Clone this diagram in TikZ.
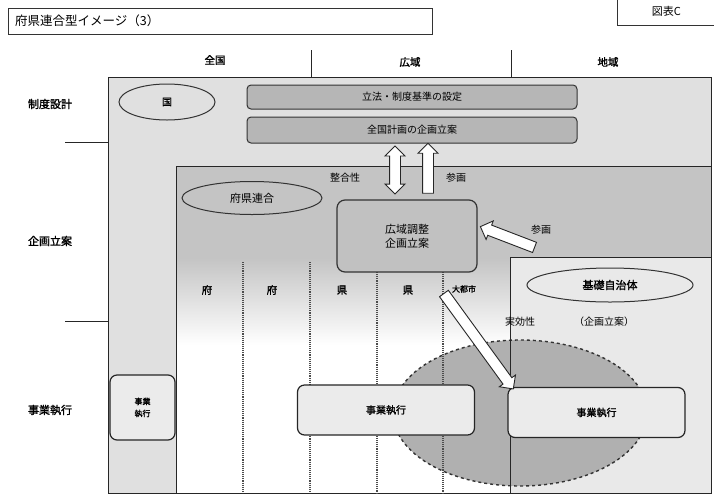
\documentclass[tikz,border=0pt]{standalone}
\usepackage{fontspec}
\newfontfamily\cjk{Noto Sans CJK JP}
\newfontfamily\cjkb[FakeBold=1.6]{Noto Sans CJK JP}
\usetikzlibrary{shapes.geometric,shapes.arrows}
\definecolor{outerfill}{HTML}{E0E0E0}
\definecolor{innerfill}{HTML}{C4C4C4}
\definecolor{barfill}{HTML}{B6B6B6}
\definecolor{localfill}{HTML}{E9E9E9}
\definecolor{ovalfill}{HTML}{B0B0B0}
\begin{document}
\begin{tikzpicture}[x=1pt,y=-1pt,
  every node/.style={font=\cjk\fontsize{10}{12}\selectfont, inner sep=1pt},
  rowlabel/.style={font=\cjkb\fontsize{11}{13}\selectfont},
  collabel/.style={font=\cjkb\fontsize{10.5}{12}\selectfont},
  bar/.style={draw=black!80, line width=1pt, rounded corners=4pt, fill=barfill, minimum width=330pt, minimum height=24pt},
  gbox/.style={draw=black!80, line width=1.2pt, rounded corners=8pt, fill=barfill!85, minimum width=140pt, minimum height=72pt, align=center, font=\cjk\fontsize{11}{14}\selectfont},
  exbox/.style={draw=black!85, line width=1.2pt, rounded corners=7pt, fill=white!92!black, minimum width=177pt, minimum height=50pt, font=\cjkb\fontsize{10}{12}\selectfont},
  oval/.style={ellipse, draw=black!80, line width=1pt},
  blockarrow/.style={single arrow, draw=black!85, line width=0.9pt, fill=white, single arrow head extend=4.5pt, inner sep=0pt, inner ysep=5pt},
  dblarrow/.style={double arrow, draw=black!85, line width=0.9pt, fill=white, double arrow head extend=4.5pt, inner sep=0pt, inner ysep=5pt},
  dotline/.style={densely dotted, line width=1.1pt, black!70},
  edge/.style={line width=0.9pt, black!85}
]
\useasboundingbox (0,0) rectangle (714,496);
\fill[white] (0,0) rectangle (714,496);

% title boxes
\node[draw=black!80, line width=0.8pt, minimum width=424pt, minimum height=26pt, anchor=north west, inner sep=0pt] (titlebox) at (8,8) {};
\node[anchor=west, font=\cjk\fontsize{12.5}{14}\selectfont] (title) at (14,21) {府県連合型イメージ（3）};
\node[draw=black!80, line width=0.8pt, minimum width=110pt, minimum height=28pt, anchor=north west, font=\cjk\fontsize{11}{13}\selectfont] (fig) at (617,-3) {\hspace*{-12pt}図表C};

% column headers
\node[collabel] (hzen) at (215,60) {全国};
\node[collabel] (hkou) at (410,62) {広域};
\node[collabel] (hchi) at (608,62) {地域};
\coordinate (t1a) at (311,50); \coordinate (t1b) at (311,77);
\coordinate (t2a) at (511,50); \coordinate (t2b) at (511,77);
\draw[edge] (t1a) -- (t1b);
\draw[edge] (t2a) -- (t2b);

% row labels
\node[rowlabel] (r1) at (50,104) {制度設計};
\node[rowlabel] (r2) at (50,241) {企画立案};
\node[rowlabel] (r3) at (50,410) {事業執行};
\coordinate (s1a) at (65,142); \coordinate (s1b) at (108,142);
\coordinate (s2a) at (65,321); \coordinate (s2b) at (108,321);
\draw[edge] (s1a) -- (s1b);
\draw[edge] (s2a) -- (s2b);

% outer box
\fill[outerfill] (108,77) rectangle (711,493);
% inner box (府県連合)
\fill[innerfill] (176,166) rectangle (711,258);
\shade[top color=innerfill, bottom color=white] (176,258) rectangle (510,345);
\fill[white] (176,345) rectangle (510,493);
% local box
\fill[localfill] (510,257) rectangle (711,493);

\draw[edge] (108,77) rectangle (711,493);
\draw[edge] (176,493) -- (176,166) -- (711,166);
\draw[edge] (510,493) -- (510,257) -- (711,257);

% dashed oval
\node[ellipse, draw=black!80, dashed, line width=1.4pt, fill=ovalfill, minimum width=254pt, minimum height=146pt] (exoval) at (520,413) {};
\draw[edge] (510,340) -- (510,487);

% dotted column lines
\foreach \x/\y in {243/262, 310/262, 377/272, 443/272}{
  \draw[dotline] (\x,\y) -- (\x,493);
}

% 国
\node[oval, minimum width=96pt, minimum height=36pt, fill=outerfill, font=\cjkb\fontsize{10}{12}\selectfont] (kuni) at (167,102) {国};
% bars
\node[bar] (bar1) at (412,97) {立法・制度基準の設定};
\node[bar, minimum height=26pt] (bar2) at (412,130) {全国計画の企画立案};

% 府県連合
\node[oval, minimum width=140pt, minimum height=33pt, fill=innerfill, font=\cjk\fontsize{11}{13}\selectfont] (fuken) at (252,198) {府県連合};

% 広域調整
\node[gbox] (kouiki) at (407,236) {広域調整\\企画立案};

% column names
\node[collabel] (c1) at (207,290) {府};
\node[collabel] (c2) at (272,290) {府};
\node[collabel] (c3) at (342,290) {県};
\node[collabel] (c4) at (408,290) {県};
\node[font=\cjkb\fontsize{8}{10}\selectfont] (c5) at (464,289) {大都市};

% 基礎自治体
\node[oval, minimum width=166pt, minimum height=34pt, fill=localfill, font=\cjkb\fontsize{11}{13}\selectfont] (kiso) at (610,285) {基礎自治体};
\node (jikko) at (520,322) {実効性};
\node (kikaku) at (604,322) {（企画立案）};

% 事業執行 boxes
\node[draw=black!85, line width=1.2pt, rounded corners=7pt, fill=white!92!black, minimum width=65pt, minimum height=65pt, align=center, font=\cjkb\fontsize{8}{12}\selectfont] (ex0) at (142.5,407.5) {事業\\執行};
\node[exbox] (ex1) at (386,410) {事業執行};
\node[exbox] (ex2) at (596.5,412.5) {事業執行};

% arrows
\node[dblarrow, minimum height=48pt, rotate=90] (a1) at (395,170) {};
\node[blockarrow, minimum height=50pt, rotate=90] (a2) at (428,171) {};
\node (seigo) at (345,178) {整合性};
\node (sankaku1) at (456,178) {参画};
\node[blockarrow, minimum height=58pt, rotate=159] (a3) at (510,238) {};
\node (sankaku2) at (541,230) {参画};
\node[blockarrow, minimum height=118pt, rotate=-54] (a4) at (477,339) {};
\end{tikzpicture}
\end{document}
